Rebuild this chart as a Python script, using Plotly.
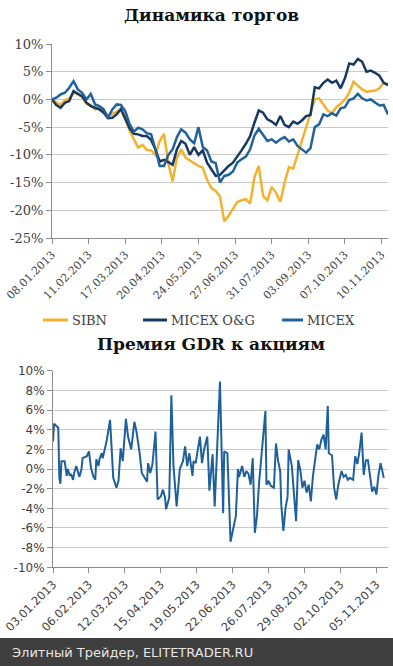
import plotly.graph_objects as go

# ---------------- Top chart data ----------------
top_dates = [
    "2013-01-08", "2013-01-12", "2013-01-16", "2013-01-20", "2013-01-24", "2013-01-28",
    "2013-02-01", "2013-02-05", "2013-02-09", "2013-02-13", "2013-02-17", "2013-02-21", "2013-02-25",
    "2013-03-01", "2013-03-05", "2013-03-09", "2013-03-13", "2013-03-17", "2013-03-21", "2013-03-25", "2013-03-29",
    "2013-04-02", "2013-04-06", "2013-04-10", "2013-04-14", "2013-04-18", "2013-04-22", "2013-04-26", "2013-04-30",
    "2013-05-04", "2013-05-08", "2013-05-12", "2013-05-16", "2013-05-20", "2013-05-24", "2013-05-28",
    "2013-06-01", "2013-06-05", "2013-06-09", "2013-06-13", "2013-06-17", "2013-06-21", "2013-06-25", "2013-06-29",
    "2013-07-03", "2013-07-07", "2013-07-11", "2013-07-15", "2013-07-19", "2013-07-23", "2013-07-27", "2013-07-31",
    "2013-08-04", "2013-08-08", "2013-08-12", "2013-08-16", "2013-08-20", "2013-08-24", "2013-08-28",
    "2013-09-01", "2013-09-05", "2013-09-09", "2013-09-13", "2013-09-17", "2013-09-21", "2013-09-25", "2013-09-29",
    "2013-10-03", "2013-10-07", "2013-10-11", "2013-10-15", "2013-10-19", "2013-10-23", "2013-10-27", "2013-10-31",
    "2013-11-04", "2013-11-08", "2013-11-12", "2013-11-16",
]

sibn = [
    0.0, -0.5, -1.0, -0.2, 0.2, 1.2, 1.0, 0.4, -0.8, -1.0, -1.8, -1.4, -2.0,
    -3.0, -2.6, -2.2, -2.0, -3.5, -5.6, -7.2, -8.7,
    -8.2, -9.1, -9.2, -10.0, -7.5, -6.2, -11.5, -14.8,
    -10.5, -9.0, -10.5, -11.0, -11.6, -12.0, -12.3,
    -14.5, -16.0, -16.5, -17.5, -22.0, -21.0, -19.8, -18.5,
    -18.2, -18.0, -18.8, -14.0, -12.0, -17.4, -18.2, -15.8,
    -16.8, -18.5, -15.0, -12.2, -12.5, -10.0, -7.8,
    -5.0, -2.5, 0.0, 0.2, -1.0, -2.0, -2.5, -1.4,
    -0.8, 0.0, 1.2, 3.2, 2.5, 1.8, 1.4, 1.5,
    1.6, 2.0, 3.0, 2.7,
]

micex_og = [
    0.0, -1.0, -1.5, -0.6, -0.3, 1.5, 1.0, 0.6, -0.6, -1.2, -1.5, -1.8, -2.4,
    -3.4, -3.3, -2.7, -1.7, -3.3, -5.2, -6.2, -6.3,
    -6.6, -6.6, -7.3, -9.0, -11.2, -10.9, -11.3, -11.8,
    -9.0, -7.5, -8.0, -10.0, -8.6, -10.0, -9.2,
    -11.4, -12.6, -13.8, -13.6, -12.8, -12.0, -11.4, -10.4,
    -9.2, -8.0, -6.6, -4.2, -2.0, -2.4, -3.6, -4.0,
    -4.6, -3.0, -4.6, -5.0, -4.0, -4.4, -3.8,
    -3.0, -2.8, 2.2, 2.0, 3.0, 3.6, 3.0, 3.4,
    2.0, 3.8, 6.5, 6.3, 7.3, 6.8, 5.0, 5.2,
    4.8, 4.3, 3.0, 2.6,
]

micex = [
    0.0, 0.3, 0.9, 1.2, 2.1, 3.3, 1.8, 1.2, 0.0, 1.0, -0.9, -1.2, -1.8,
    -3.3, -1.8, -0.9, -1.0, -2.1, -4.4, -5.8, -5.1,
    -5.4, -6.1, -6.3, -9.0, -12.0, -12.0, -10.0, -9.0,
    -6.8, -5.4, -6.0, -7.2, -7.9, -5.0, -8.6,
    -9.2, -11.2, -11.5, -15.0, -13.8, -13.6, -13.0, -11.4,
    -10.8, -10.3, -9.0, -6.5, -5.3, -6.5, -7.5, -7.2,
    -7.8, -7.2, -6.8, -7.6, -7.2, -8.4, -9.0,
    -9.6, -8.8, -5.0, -4.5, -2.7, -3.0, -2.5, -2.9,
    -1.6, -1.4, -0.1, 0.2, 1.0, 0.2, -0.2, 0.0,
    -0.6, -1.1, -1.0, -2.7,
]

top_ticks = ["2013-01-08", "2013-02-11", "2013-03-17", "2013-04-20", "2013-05-24",
             "2013-06-27", "2013-07-31", "2013-09-03", "2013-10-07", "2013-11-10"]
top_yticks = [10, 5, 0, -5, -10, -15, -20, -25]

# ---------------- Bottom chart data ----------------
gdr_dates = [
    "2013-01-03", "2013-01-04", "2013-01-06", "2013-01-08", "2013-01-09", "2013-01-10", "2013-01-11",
    "2013-01-14", "2013-01-16", "2013-01-17", "2013-01-19", "2013-01-20", "2013-01-22", "2013-01-23",
    "2013-01-25", "2013-01-27", "2013-01-28", "2013-01-30", "2013-01-31",
    "2013-02-04", "2013-02-06", "2013-02-08", "2013-02-10", "2013-02-12", "2013-02-13", "2013-02-15",
    "2013-02-16", "2013-02-18", "2013-02-19", "2013-02-21", "2013-02-23", "2013-02-26", "2013-02-27",
    "2013-03-01", "2013-03-04", "2013-03-06", "2013-03-08", "2013-03-10", "2013-03-13", "2013-03-15",
    "2013-03-18", "2013-03-21", "2013-03-23", "2013-03-26", "2013-03-28", "2013-03-31",
    "2013-04-02", "2013-04-03", "2013-04-05", "2013-04-07", "2013-04-10", "2013-04-12", "2013-04-15",
    "2013-04-17", "2013-04-19", "2013-04-20", "2013-04-23", "2013-04-25", "2013-04-27", "2013-04-30",
    "2013-05-01", "2013-05-03", "2013-05-06", "2013-05-08", "2013-05-10", "2013-05-12", "2013-05-15",
    "2013-05-16", "2013-05-18", "2013-05-22", "2013-05-24", "2013-05-26", "2013-05-29", "2013-05-31",
    "2013-06-03", "2013-06-05", "2013-06-10", "2013-06-13", "2013-06-14", "2013-06-17", "2013-06-20",
    "2013-06-22", "2013-06-25", "2013-06-27", "2013-06-28",
    "2013-07-01", "2013-07-03", "2013-07-05", "2013-07-07", "2013-07-09", "2013-07-11", "2013-07-13",
    "2013-07-15", "2013-07-17", "2013-07-19", "2013-07-21", "2013-07-23", "2013-07-24", "2013-07-26",
    "2013-07-28", "2013-07-31",
    "2013-08-02", "2013-08-04", "2013-08-06", "2013-08-07", "2013-08-09", "2013-08-11", "2013-08-13",
    "2013-08-14", "2013-08-17", "2013-08-19", "2013-08-21", "2013-08-23", "2013-08-25", "2013-08-27",
    "2013-08-29", "2013-08-31",
    "2013-09-02", "2013-09-04", "2013-09-06", "2013-09-08", "2013-09-10", "2013-09-12", "2013-09-14",
    "2013-09-16", "2013-09-18", "2013-09-20", "2013-09-21", "2013-09-24", "2013-09-26", "2013-09-28",
    "2013-09-30",
    "2013-10-03", "2013-10-05", "2013-10-07", "2013-10-09", "2013-10-11", "2013-10-14", "2013-10-16",
    "2013-10-18", "2013-10-20", "2013-10-22", "2013-10-24", "2013-10-26", "2013-10-28", "2013-10-30",
    "2013-11-01", "2013-11-03", "2013-11-05", "2013-11-07", "2013-11-09", "2013-11-12",
]

gdr_premium = [
    2.8, 4.6, 4.4, 4.2, -0.9, -1.5, 0.8,
    0.8, -0.7, 0.0, -0.7, -0.5, -1.1, -0.4,
    0.3, -0.4, -0.8, 0.0, 1.1,
    1.3, 1.8, 0.1, -0.7, -1.1, 1.0, 0.3,
    1.0, 1.6, 1.1, 2.0, 3.0, 5.0, 3.3,
    -0.9, -1.9, -1.2, 2.1, 0.8, 5.1, 3.3,
    2.0, 4.8, 3.8, 1.6, -0.4, -0.9,
    -1.3, 0.6, -0.4, 0.4, 3.8, -3.1, -2.8,
    -2.1, -2.9, -4.1, -2.9, 7.5, 0.3, -3.8,
    -2.4, 0.0, 0.8, 2.3, 0.3, 1.6, -0.7,
    0.8, 0.6, 3.3, 0.6, 2.0, 3.3, -2.2,
    1.5, -3.8, 8.9, -4.5, 1.8, 1.6, -7.4,
    -6.2, -4.8, 0.0, -0.8,
    0.3, -0.8, -0.2, -0.5, -1.6, 1.1, -6.5,
    -4.8, -1.4, 1.3, 3.7, 5.9, -1.6, -1.2,
    -1.7, -1.9,
    2.6, 0.8, -0.2, -3.6, -6.3, -4.0, -2.8,
    2.0, 0.3, -2.4, -5.3, 0.9, -0.1, -1.9,
    -1.2, -2.4,
    -1.6, -3.3, -0.7, 0.9, 2.5, 2.0, 3.0,
    3.5, 2.0, 6.4, 1.6, 1.4, -1.9, -3.1,
    -1.6,
    -0.2, -0.8, -0.6, -1.1, -0.9, -1.1, 1.3,
    0.5, 1.8, 3.7, -0.6, 0.9, 0.9, -0.7,
    -2.3, -1.8, -2.6, -0.6, 0.6, -0.9,
]

bottom_ticks = ["2013-01-03", "2013-02-06", "2013-03-12", "2013-04-15", "2013-05-19",
                "2013-06-22", "2013-07-26", "2013-08-29", "2013-10-02", "2013-11-05"]
bottom_yticks = [10, 8, 6, 4, 2, 0, -2, -4, -6, -8, -10]

# ---------------- Styles ----------------
W, H = 393, 666
C_SIBN = "#F2B22E"
C_OG = "#18395F"
C_MICEX = "#21629C"
C_GDR = "#20609A"
GRID = "#C9C9C9"
AXIS = "#8C8C8C"
TXT = "#404040"
SERIF = "DejaVu Serif"
SANS = "DejaVu Sans"

def px(x):
    return x / W

def py(y):
    return 1 - y / H

fig = go.Figure()

fig.add_trace(go.Scatter(x=top_dates, y=sibn, mode="lines", name="SIBN",
                         line=dict(color=C_SIBN, width=2.5), xaxis="x", yaxis="y"))
fig.add_trace(go.Scatter(x=top_dates, y=micex_og, mode="lines", name="MICEX O&G",
                         line=dict(color=C_OG, width=2.5), xaxis="x", yaxis="y"))
fig.add_trace(go.Scatter(x=top_dates, y=micex, mode="lines", name="MICEX",
                         line=dict(color=C_MICEX, width=2.5), xaxis="x", yaxis="y"))
fig.add_trace(go.Scatter(x=gdr_dates, y=gdr_premium, mode="lines", name="GDR",
                         line=dict(color=C_GDR, width=2), xaxis="x2", yaxis="y2"))

common_x = dict(type="date", showgrid=False, zeroline=False, showline=True, linecolor=AXIS,
                linewidth=1, ticks="outside", ticklen=5, tickcolor=AXIS, tickangle=-45,
                tickformat="%d.%m.%Y", automargin=False, ticklabeloverflow="allow")
common_y = dict(showgrid=True, gridcolor=GRID, gridwidth=1, zeroline=False, showline=True,
                linecolor=AXIS, linewidth=1, ticks="outside", ticklen=5, tickcolor=AXIS,
                automargin=False)

fig.update_layout(
    width=W, height=H,
    margin=dict(l=0, r=0, t=0, b=0, autoexpand=False),
    paper_bgcolor="white", plot_bgcolor="white",
    showlegend=False,
    xaxis=dict(common_x, domain=[px(52), px(388)], anchor="y",
               range=["2013-01-08", "2013-11-16"], tickvals=top_ticks,
               tickfont=dict(family=SERIF, size=11, color=TXT)),
    yaxis=dict(common_y, domain=[py(238), py(44)], anchor="x",
               range=[-25, 10], tickvals=top_yticks,
               ticktext=[f"{v}%" for v in top_yticks],
               tickfont=dict(family=SERIF, size=13, color=TXT)),
    xaxis2=dict(common_x, domain=[px(53), px(388)], anchor="y2",
                range=["2013-01-03", "2013-11-16"], tickvals=bottom_ticks,
                tickfont=dict(family=SANS, size=11.5, color=TXT)),
    yaxis2=dict(common_y, domain=[py(567.3), py(370.7)], anchor="x2",
                range=[-10, 10], tickvals=bottom_yticks,
                ticktext=[f"{v}%" for v in bottom_yticks],
                tickfont=dict(family=SANS, size=12, color=TXT)),
)

# Titles
fig.add_annotation(text="<b>Динамика торгов</b>", x=px(211), y=py(15), xref="paper", yref="paper",
                   showarrow=False, font=dict(family=SERIF, size=17, color="#111111"),
                   xanchor="center", yanchor="middle")
fig.add_annotation(text="<b>Премия GDR к акциям</b>", x=px(211), y=py(344), xref="paper", yref="paper",
                   showarrow=False, font=dict(family=SERIF, size=17, color="#111111"),
                   xanchor="center", yanchor="middle")

# Manual legend
legend_items = [("SIBN", C_SIBN, 43, 68), ("MICEX O&G", C_OG, 143, 167), ("MICEX", C_MICEX, 282, 303)]
for label, color, x0, x1 in legend_items:
    fig.add_shape(type="line", xref="paper", yref="paper", x0=px(x0), x1=px(x1), y0=py(320), y1=py(320),
                  line=dict(color=color, width=3))
    fig.add_annotation(text=label, x=px(x1 + 2), y=py(320), xref="paper", yref="paper", showarrow=False,
                       xanchor="left", yanchor="middle", font=dict(family=SERIF, size=13, color=TXT))

# Footer band
fig.add_shape(type="rect", xref="paper", yref="paper", x0=0, x1=1, y0=0, y1=py(638),
              fillcolor="#3F3F3F", line=dict(width=0), layer="above")
fig.add_annotation(text="Элитный Трейдер, ELITETRADER.RU", x=px(10), y=py(652), xref="paper", yref="paper",
                   showarrow=False, xanchor="left", yanchor="middle",
                   font=dict(family=SANS, size=13, color="#E6E6E6"))

fig.write_html("out.html", config={"displayModeBar": False},
               post_script="document.body.style.margin='0px';document.body.style.overflow='hidden';")
